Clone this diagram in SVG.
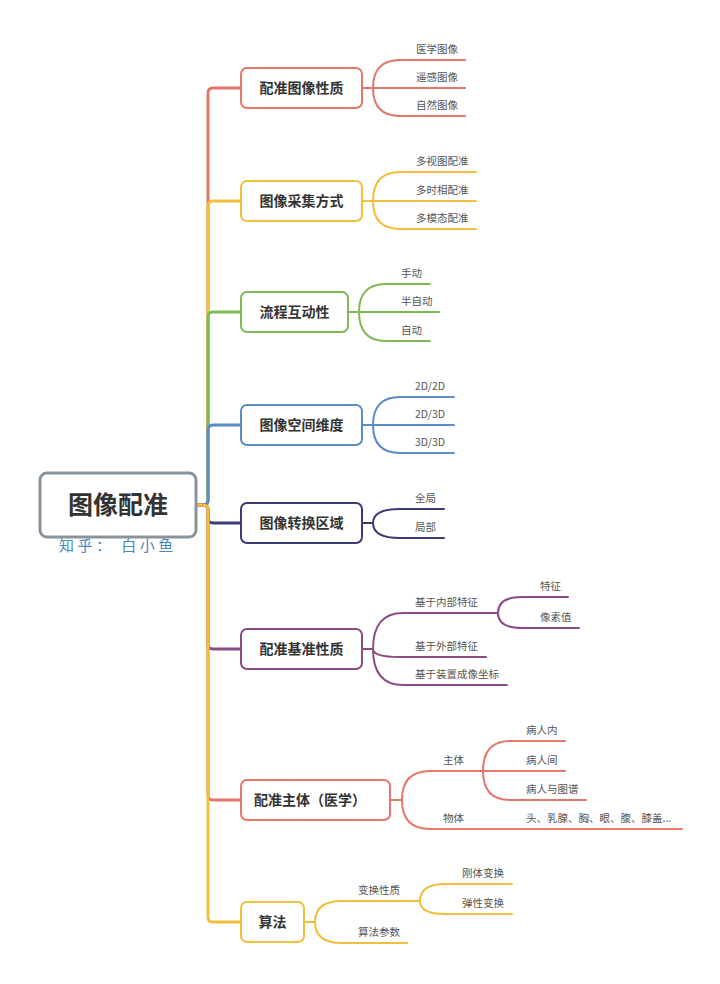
<svg xmlns="http://www.w3.org/2000/svg" width="720" height="984" viewBox="0 0 720 984">
<style>
.bg{fill:#ffffff}
.box{fill:#ffffff;stroke-width:2}
.root{fill:#ffffff;stroke:#8a939c;stroke-width:3}
.t{font-family:"Noto Sans CJK SC","Noto Sans",sans-serif;font-weight:bold;font-size:14px;fill:#333333;text-anchor:middle}
.rt{font-family:"Noto Sans CJK SC","Noto Sans",sans-serif;font-weight:bold;font-size:25px;fill:#333333;text-anchor:middle}
.sub{font-family:"Noto Sans CJK SC","Noto Sans",sans-serif;font-size:15px;fill:#4a8ac0;letter-spacing:3.5px}
.l{font-family:"Noto Sans CJK SC","Noto Sans",sans-serif;font-size:10.5px;fill:#555555}
.c{fill:none;stroke-width:3;stroke-linecap:round}
.w{fill:none;stroke-width:2;stroke-linecap:round}
.red{stroke:#e4766a}
.yel{stroke:#f2bf3c}
.grn{stroke:#7dbb58}
.blu{stroke:#5b8cc6}
.nav{stroke:#3b3a78}
.pur{stroke:#8c4c86}
</style>
<rect class="bg" x="0" y="0" width="720" height="984"/>

<g id="connectors">
  <path class="c red" d="M196,505 H203 Q208,505 208,500 V93 Q208,88 213,88 H241"/>
  <path class="c yel" d="M196,505 H203 Q208,505 208,500 V206 Q208,201 213,201 H241"/>
  <path class="c grn" d="M196,505 H203 Q208,505 208,500 V317 Q208,312 213,312 H241"/>
  <path class="c blu" d="M196,505 H203 Q208,505 208,500 V430 Q208,425 213,425 H241"/>
  <path class="c nav" d="M196,505 H203 Q208,505 208,510 V518 Q208,523 213,523 H241"/>
  <path class="c pur" d="M196,505 H203 Q208,505 208,510 V644 Q208,649 213,649 H241"/>
  <path class="c red" d="M196,505 H203 Q208,505 208,510 V795 Q208,800 213,800 H241"/>
  <path class="c yel" d="M196,505 H203 Q208,505 208,510 V917 Q208,922 213,922 H241"/>

  <path class="w red" d="M362,88 H373 M373,88 Q373,60 400,60 H465 M373,88 H465 M373,88 Q373,116 400,116 H465"/>
  <path class="w yel" d="M362,201 H373 M373,201 Q373,172 400,172 H476 M373,201 H476 M373,201 Q373,229 400,229 H476"/>
  <path class="w grn" d="M348,312 H359 M359,312 Q359,284 386,284 H430 M359,312 H439 M359,312 Q359,341 386,341 H430"/>
  <path class="w blu" d="M362,425 H373 M373,425 Q373,397 400,397 H454 M373,425 H454 M373,425 Q373,453 400,453 H454"/>
  <path class="w nav" d="M362,523 H373 M373,523 Q373,509 400,509 H444 M373,523 Q373,538 400,538 H444"/>
  <path class="w pur" d="M362,649 H373 M373,649 Q373,613 403,613 H498 M373,649 Q373,657 400,657 H486 M373,649 Q373,685 403,685 H507"/>
  <path class="w pur" d="M498,613 Q498,597 522,597 H568 M498,613 Q498,628 522,628 H579"/>
  <path class="w red" d="M390,800 H402 M402,800 Q402,771 430,771 H483 M402,800 Q402,829 430,829 H682"/>
  <path class="w red" d="M483,771 Q483,741 510,741 H565 M483,771 H565 M483,771 Q483,800 510,800 H586"/>
  <path class="w yel" d="M304,922 H315 M315,922 Q315,901 342,901 H420 M315,922 Q315,943 342,943 H407"/>
  <path class="w yel" d="M420,901 Q420,884 445,884 H512 M420,901 Q420,914 445,914 H512"/>
</g>

<g id="root">
  <rect class="root" x="40" y="473" width="156" height="64" rx="7"/>
  <text class="rt" x="118" y="514">图像配准</text>
  <text class="sub" x="59" y="551">知乎： 白小鱼</text>
</g>

<g id="n1">
  <rect class="box red" x="241" y="68" width="121" height="40" rx="6"/>
  <text class="t" x="301.5" y="93">配准图像性质</text>
  <text class="l" x="416" y="53">医学图像</text>
  <text class="l" x="416" y="81">遥感图像</text>
  <text class="l" x="416" y="109">自然图像</text>
</g>

<g id="n2">
  <rect class="box yel" x="241" y="181" width="121" height="40" rx="6"/>
  <text class="t" x="301.5" y="206">图像采集方式</text>
  <text class="l" x="416" y="165">多视图配准</text>
  <text class="l" x="416" y="194">多时相配准</text>
  <text class="l" x="416" y="222">多模态配准</text>
</g>

<g id="n3">
  <rect class="box grn" x="241" y="292" width="107" height="40" rx="6"/>
  <text class="t" x="294.5" y="317">流程互动性</text>
  <text class="l" x="401" y="277">手动</text>
  <text class="l" x="401" y="305">半自动</text>
  <text class="l" x="401" y="334">自动</text>
</g>

<g id="n4">
  <rect class="box blu" x="241" y="405" width="121" height="40" rx="6"/>
  <text class="t" x="301.5" y="430">图像空间维度</text>
  <text class="l" x="415" y="390">2D/2D</text>
  <text class="l" x="415" y="418">2D/3D</text>
  <text class="l" x="415" y="446">3D/3D</text>
</g>

<g id="n5">
  <rect class="box nav" x="241" y="503" width="121" height="40" rx="6"/>
  <text class="t" x="301.5" y="528">图像转换区域</text>
  <text class="l" x="415" y="502">全局</text>
  <text class="l" x="415" y="531">局部</text>
</g>

<g id="n6">
  <rect class="box pur" x="241" y="629" width="121" height="40" rx="6"/>
  <text class="t" x="301.5" y="654">配准基准性质</text>
  <text class="l" x="415" y="606">基于内部特征</text>
  <text class="l" x="415" y="650">基于外部特征</text>
  <text class="l" x="415" y="678">基于装置成像坐标</text>
  <text class="l" x="540" y="590">特征</text>
  <text class="l" x="540" y="621">像素值</text>
</g>

<g id="n7">
  <rect class="box red" x="241" y="780" width="149" height="40" rx="6"/>
  <text class="t" x="310" y="805">配准主体（医学）</text>
  <text class="l" x="443" y="764">主体</text>
  <text class="l" x="443" y="822">物体</text>
  <text class="l" x="526" y="734">病人内</text>
  <text class="l" x="526" y="764">病人间</text>
  <text class="l" x="526" y="793">病人与图谱</text>
  <text class="l" x="526" y="822">头、乳腺、胸、眼、腹、膝盖...</text>
</g>

<g id="n8">
  <rect class="box yel" x="241" y="902" width="63" height="40" rx="6"/>
  <text class="t" x="272.5" y="927">算法</text>
  <text class="l" x="358" y="894">变换性质</text>
  <text class="l" x="358" y="936">算法参数</text>
  <text class="l" x="462" y="877">刚体变换</text>
  <text class="l" x="462" y="907">弹性变换</text>
</g>
</svg>
